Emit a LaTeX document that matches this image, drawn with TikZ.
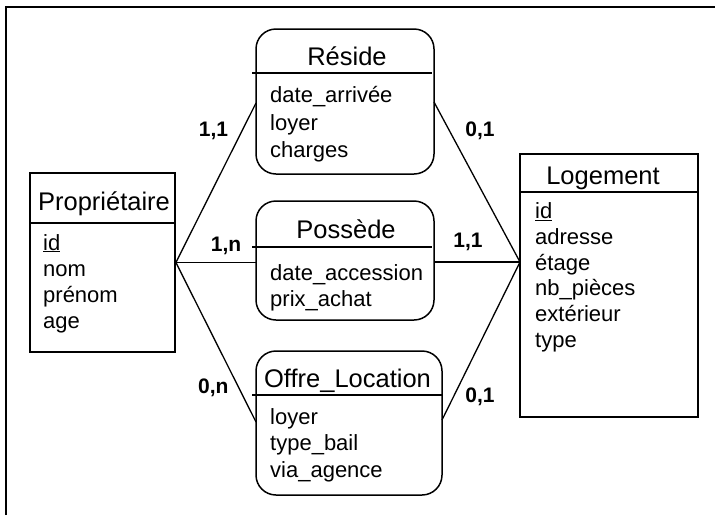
\documentclass[tikz,border=0pt]{standalone}
\usepackage{fontspec}
\setmainfont{Liberation Sans}
\begin{document}
\begin{tikzpicture}[x=1pt,y=-1pt,
  entbox/.style={draw, line width=1.8pt, inner sep=0pt},
  relbox/.style={draw, line width=1.5pt, rounded corners=20pt, inner sep=0pt},
  link/.style={line width=1.3pt},
  sepline/.style={line width=1.6pt},
  frame/.style={line width=2pt},
  ttl/.style={font=\fontsize{25.5}{30}\selectfont, inner sep=0pt, anchor=base},
  attr/.style={font=\fontsize{22}{26}\selectfont, inner sep=0pt, anchor=base west},
  card/.style={font=\fontsize{21}{25}\selectfont\bfseries, inner sep=0pt, anchor=base}]
\useasboundingbox (0,0) rectangle (715,515);
% outer frame
\coordinate (fa) at (6,515);
\coordinate (fb) at (6,7);
\coordinate (fc) at (715,7);
\draw[frame] (fa) -- (fb) -- (fc);

% Proprietaire
\node[entbox, minimum width=145pt, minimum height=179pt] (prop) at (102.5,262.5) {};
\draw[sepline] (prop.west |- 0,223) -- (prop.east |- 0,223);
\node[ttl] (propT) at (104,210) {Propriétaire};
\node[attr] (p1) at (43,250) {\underline{id}};
\node[attr] (p2) at (43,276) {nom};
\node[attr] (p3) at (43,302) {prénom};
\node[attr] (p4) at (43,328) {age};

% Logement
\node[entbox, minimum width=178pt, minimum height=263pt] (loge) at (609,285.5) {};
\draw[sepline] (loge.west |- 0,192) -- (loge.east |- 0,192);
\node[ttl] (logeT) at (603,184) {Logement};
\node[attr] (l1) at (535,218.5) {\underline{id}};
\node[attr] (l2) at (535,244.2) {adresse};
\node[attr] (l3) at (535,270) {étage};
\node[attr] (l4) at (535,295.7) {nb\_pièces};
\node[attr] (l5) at (535,321.4) {extérieur};
\node[attr] (l6) at (535,347) {type};

% Reside
\node[relbox, minimum width=178pt, minimum height=145pt] (res) at (345,101.5) {};
\coordinate (resS1) at (252,73);
\coordinate (resS2) at (432,73);
\draw[sepline] (resS1) -- (resS2);
\node[ttl] (resT) at (347,65) {Réside};
\node[attr] (r1) at (270,102.5) {date\_arrivée};
\node[attr] (r2) at (270,130) {loyer};
\node[attr] (r3) at (270,157.5) {charges};

% Possede
\node[relbox, minimum width=178pt, minimum height=119pt] (pos) at (345,260.5) {};
\coordinate (posS1) at (252,247);
\coordinate (posS2) at (432,247);
\draw[line width=2.6pt] (posS1) -- (posS2);
\node[ttl] (posT) at (346,238.5) {Possède};
\node[attr] (s1) at (270,280) {date\_accession};
\node[attr] (s2) at (270,306) {prix\_achat};

% Offre_Location
\node[relbox, minimum width=186pt, minimum height=144pt] (off) at (349,423) {};
\coordinate (offS1) at (252,395);
\coordinate (offS2) at (442,395);
\draw[sepline] (offS1) -- (offS2);
\node[ttl] (offT) at (347.5,387) {Offre\_Location};
\node[attr] (o1) at (270,424) {loyer};
\node[attr] (o2) at (270,450.5) {type\_bail};
\node[attr] (o3) at (270,477) {via\_agence};

% connection points
\coordinate (logL) at (520,262);
\coordinate (resL) at (256,103);
\coordinate (resR) at (434,102);
\coordinate (posL) at (256,262.5);
\coordinate (posR) at (434,262);
\coordinate (offL) at (256,422);
\coordinate (offR) at (442,420);

\draw[link] (prop.east) -- (resL);
\draw[link] (prop.east) -- (posL);
\draw[link] (prop.east) -- (offL);
\draw[link] (resR) -- (logL);
\draw[link] (posR) -- (logL);
\draw[link] (offR) -- (logL);

% cardinalities
\node[card] (c1) at (213.5,136) {1,1};
\node[card] (c2) at (226,251) {1,n};
\node[card] (c3) at (213.3,393) {0,n};
\node[card] (c4) at (480,136) {0,1};
\node[card] (c5) at (468,247.6) {1,1};
\node[card] (c6) at (480,402.6) {0,1};
\end{tikzpicture}
\end{document}
